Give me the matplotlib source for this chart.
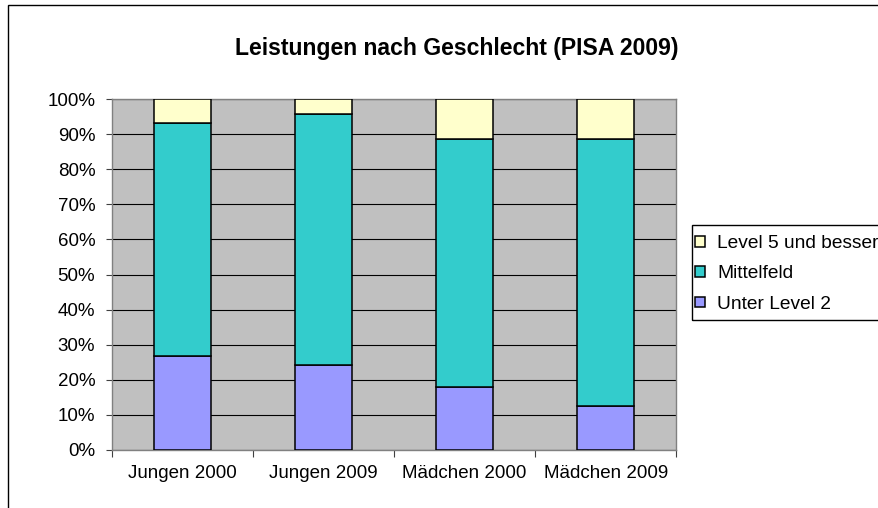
import matplotlib
matplotlib.use("Agg")
import matplotlib.pyplot as plt
from matplotlib.patches import Rectangle
import numpy as np

plt.rcParams['font.family'] = ['Liberation Sans', 'DejaVu Sans']

# data (percent)
categories = ["Jungen 2000", "Jungen 2009", "Mädchen 2000", "Mädchen 2009"]
unter_level2 = [26.7, 24.1, 18.0, 12.5]
mittelfeld = [66.4, 71.6, 70.7, 76.2]
level5 = [6.9, 4.3, 11.3, 11.3]
series_names = ["Unter Level 2", "Mittelfeld", "Level 5 und besser"]
colors = ["#9999FF", "#33CCCC", "#FFFFCC"]
title = "Leistungen nach Geschlecht (PISA 2009)"

W, H = 879, 508
fig = plt.figure(figsize=(W / 100, H / 100), dpi=100)
fig.patch.set_facecolor("white")

# chart border (only top and left visible in the crop)
fig.add_artist(Rectangle((8 / W, -0.5), 1.5, 0.5 + (H - 5) / H, transform=fig.transFigure,
                         fill=False, edgecolor="black", linewidth=1.0))

ax = fig.add_axes([111.7 / W, (H - 450) / H, 564.6 / W, 351 / H])
ax.set_facecolor("#C0C0C0")

x = np.arange(len(categories))
bottom = np.zeros(len(categories))
bars = []
for vals, name, col in zip([unter_level2, mittelfeld, level5], series_names, colors):
    b = ax.bar(x, vals, 0.4, bottom=bottom, color=col, edgecolor="black", linewidth=1.1,
               label=name, zorder=3)
    bars.append(b)
    bottom = bottom + np.array(vals)

ax.set_xlim(-0.5, len(categories) - 0.5)
ax.set_ylim(0, 100)
ax.set_yticks(np.arange(0, 101, 10))
ax.set_yticklabels([f"{v}%" for v in range(0, 101, 10)])
ax.yaxis.grid(True, color="black", linewidth=0.8, zorder=1)
ax.set_axisbelow(True)

ax.set_xticks(np.arange(-0.5, len(categories), 1.0))
ax.set_xticklabels([])
ax.set_xticks(x, minor=True)
ax.set_xticklabels(categories, minor=True)
ax.tick_params(axis="x", which="minor", length=0, pad=11, labelsize=13.5)
ax.tick_params(axis="x", which="major", length=5, width=0.8, color="#404040")
ax.tick_params(axis="y", length=4.3, width=0.8, pad=7.5, labelsize=13.5, color="#404040")

for s in ax.spines.values():
    s.set_color("#808080")
    s.set_linewidth(1.0)

fig.text(456.7 / W, 1 - 55 / H, title, ha="center", va="baseline",
         fontsize=16.6, fontweight="bold")

# legend frame drawn by hand, it runs off the right edge
fig.add_artist(Rectangle((692 / W, (H - 320) / H), 1.0, 95 / H, transform=fig.transFigure,
                         fill=False, edgecolor="black", linewidth=1.0))
handles = [bars[2], bars[1], bars[0]]
labels = [series_names[2], series_names[1], series_names[0]]
leg = fig.legend(handles, labels, loc="upper left", bbox_to_anchor=(695 / W, 1 - 235 / H),
                 bbox_transform=fig.transFigure, fontsize=13.8, frameon=False,
                 borderaxespad=0, borderpad=0, handlelength=0.5,
                 handleheight=0.5, handletextpad=0.65, labelspacing=0.7)

fig.savefig("out.png", dpi=100)
